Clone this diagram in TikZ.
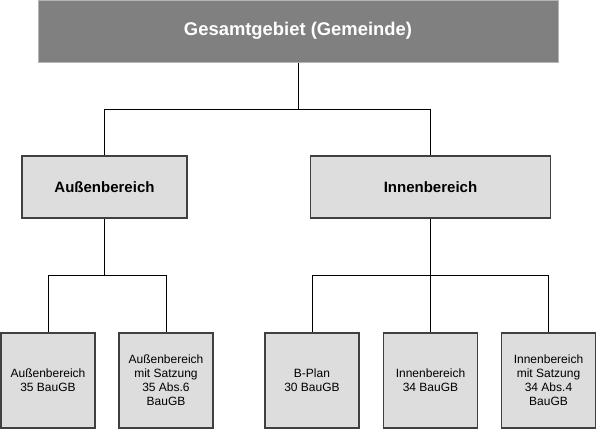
\documentclass[tikz,border=0pt]{standalone}
\usepackage{fontspec}
\setmainfont{Liberation Sans}
\definecolor{boxfill}{RGB}{221,221,221}
\definecolor{boxdraw}{RGB}{64,64,64}
\definecolor{topfill}{RGB}{128,128,128}
\definecolor{topdraw}{RGB}{180,180,180}
\tikzset{
  topbox/.style={draw=topdraw, line width=1pt, fill=topfill, text=white, inner sep=0pt,
    minimum width=520pt, minimum height=61.5pt, font=\fontsize{18.4}{22}\selectfont\bfseries},
  midbox/.style={draw=boxdraw, line width=1.2pt, fill=boxfill, inner sep=0pt,
    minimum height=62pt, font=\fontsize{15}{18}\selectfont\bfseries},
  lowbox/.style={draw=boxdraw, line width=1.2pt, fill=boxfill, inner sep=0pt, align=center,
    minimum width=94pt, minimum height=95pt, font=\fontsize{12}{14}\selectfont},
  conn/.style={draw=black, line width=1pt}
}
\begin{document}
\begin{tikzpicture}[x=1pt,y=1pt]
\useasboundingbox (0,0) rectangle (597,-429);
\node[topbox] (top) at (298,-31.25) {Gesamtgebiet (Gemeinde)};
\node[midbox, minimum width=165pt] (aus) at (104.5,-187) {Außenbereich};
\node[midbox, minimum width=240pt] (inn) at (430.5,-187) {Innenbereich};
\node[lowbox] (b1) at (48,-380.5) {Außenbereich\\35 BauGB};
\node[lowbox] (b2) at (166,-380.5) {Außenbereich\\mit Satzung\\35 Abs.6\\BauGB};
\node[lowbox] (b3) at (312,-380.5) {B-Plan\\30 BauGB};
\node[lowbox] (b4) at (430.5,-380.5) {Innenbereich\\34 BauGB};
\node[lowbox] (b5) at (548.5,-380.5) {Innenbereich\\mit Satzung\\34 Abs.4\\BauGB};
\coordinate (j1) at (298,-109);
\coordinate (j2) at (104.5,-275);
\coordinate (j3) at (430.5,-275);
\draw[conn] (top) -- (j1);
\draw[conn] (j1) -| (aus);
\draw[conn] (j1) -| (inn);
\draw[conn] (aus) -- (j2);
\draw[conn] (j2) -| (b1);
\draw[conn] (j2) -| (b2);
\draw[conn] (inn) -- (j3);
\draw[conn] (j3) -| (b3);
\draw[conn] (j3) -- (b4);
\draw[conn] (j3) -| (b5);
\end{tikzpicture}
\end{document}
